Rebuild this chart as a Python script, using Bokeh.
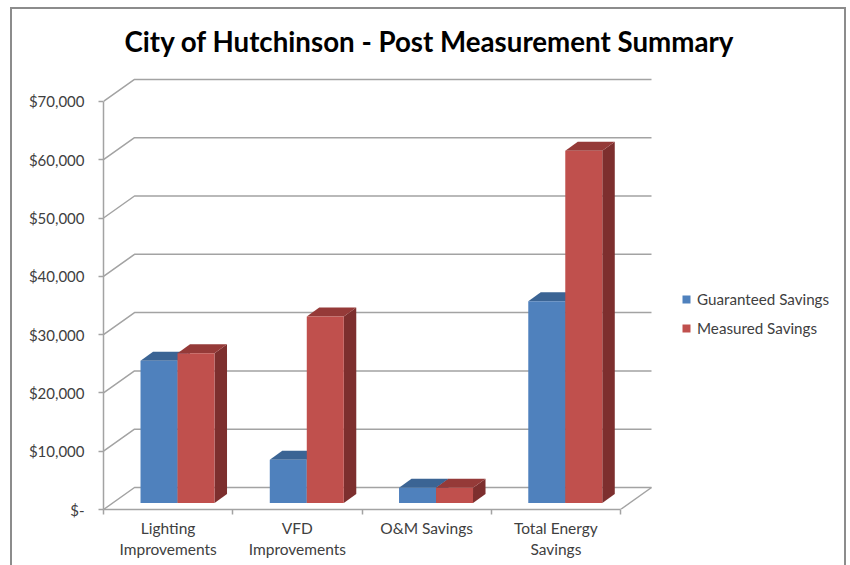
from bokeh.plotting import figure
from bokeh.models import FixedTicker, Legend, LegendItem, Title
from bokeh.embed import file_html
from bokeh.resources import INLINE

categories = ["Lighting\nImprovements", "VFD\nImprovements", "O&M Savings", "Total Energy\nSavings"]
guaranteed = [24400, 7400, 2600, 34600]
measured = [25700, 32000, 2600, 60400]
y_ticks = [0, 10000, 20000, 30000, 40000, 50000, 60000, 70000]
y_labels = ["$-", "$10,000", "$20,000", "$30,000", "$40,000", "$50,000", "$60,000", "$70,000"]
series_names = ["Guaranteed Savings", "Measured Savings"]

BLUE, BLUE_TOP, BLUE_SIDE = "#4F81BD", "#3B6494", "#2F5076"
RED, RED_TOP, RED_SIDE = "#C0504D", "#953A38", "#7D2F2E"
GRID = "#A3A3A3"
TEXT = "#404040"
FONT = "Lato"

LEFT, RIGHT, TOP, BOTTOM = 91, 0, 60, 56
FRAME_W, FRAME_H = 741, 440
PX_PER_CAT = 129.25
PX_PER_K = 5.83

xmax = FRAME_W / PX_PER_CAT
ymax = FRAME_H / PX_PER_K * 1000

# 3-D projection, in px, converted to data units
wall_dx, wall_dy = 31 / PX_PER_CAT, 22 / PX_PER_K * 1000
bar_off_x, bar_off_y = 9.4 / PX_PER_CAT, 6.5 / PX_PER_K * 1000
bar_dx, bar_dy = 12.5 / PX_PER_CAT, 9 / PX_PER_K * 1000
bar_w = 37 / PX_PER_CAT

p = figure(frame_width=FRAME_W, frame_height=FRAME_H, output_backend="svg", toolbar_location=None,
           x_range=(0, xmax), y_range=(0, ymax),
           min_border_left=LEFT, min_border_right=RIGHT, min_border_top=TOP, min_border_bottom=BOTTOM,
           outline_line_color=None, background_fill_color="white", border_fill_color="white",
           margin=(7, 0, 0, 10),
           styles={"border-left": "2px solid #8C8C8C", "border-right": "2px solid #8C8C8C",
                   "border-top": "2px solid #8C8C8C"})
p.grid.visible = False

p.title = Title(text="City of Hutchinson - Post Measurement Summary", align="left",
                vertical_align="top", offset=21, text_font=FONT, text_font_style="bold",
                text_font_size="27.7px", text_color="#000000", standoff=20)

# Walls and floor
n = len(categories)
xs, ys = [], []
for v in y_ticks:
    xs.append([0, wall_dx, n + wall_dx])
    ys.append([v, v + wall_dy, v + wall_dy])
xs.append([n, n + wall_dx])
ys.append([0, wall_dy])
p.multi_line(xs, ys, line_color=GRID, line_width=1.5)

# Bars
def bars(values, offset, front, top, side):
    centers = [i + 0.5 + bar_off_x + offset * bar_w for i in range(n)]
    left = [c - bar_w / 2 for c in centers]
    right = [c + bar_w / 2 for c in centers]
    tops = [bar_off_y + v for v in values]
    side_x = [[r, r + bar_dx, r + bar_dx, r] for r in right]
    side_y = [[bar_off_y, bar_off_y + bar_dy, t + bar_dy, t] for t in tops]
    top_x = [[l, l + bar_dx, r + bar_dx, r] for l, r in zip(left, right)]
    top_y = [[t, t + bar_dy, t + bar_dy, t] for t in tops]
    p.patches(side_x, side_y, fill_color=side, line_color=None)
    p.patches(top_x, top_y, fill_color=top, line_color=None)
    return p.vbar(x=centers, width=bar_w, bottom=bar_off_y, top=tops, fill_color=front, line_color=None)

r1 = bars(guaranteed, -0.5, BLUE, BLUE_TOP, BLUE_SIDE)
r2 = bars(measured, 0.5, RED, RED_TOP, RED_SIDE)

# Axes
ya = p.yaxis[0]
ya.ticker = FixedTicker(ticks=y_ticks)
ya.major_label_overrides = dict(zip(y_ticks, y_labels))
ya.bounds = (0, 70000)
ya.axis_line_color = GRID
ya.axis_line_width = 1.5
ya.major_tick_line_color = GRID
ya.major_tick_line_width = 1.5
ya.major_tick_in = 0
ya.major_tick_out = 5
ya.minor_tick_line_color = None
ya.major_label_standoff = 14
ya.major_label_text_font = FONT
ya.major_label_text_font_size = "15px"
ya.major_label_text_color = TEXT

xa = p.xaxis[0]
tick_pos = [i + 0.5 for i in range(n)]
xa.ticker = FixedTicker(ticks=tick_pos, minor_ticks=list(range(n + 1)))
xa.major_label_overrides = dict(zip(tick_pos, categories))
xa.bounds = (0, n)
xa.axis_line_color = GRID
xa.axis_line_width = 1.5
xa.major_tick_line_color = None
xa.minor_tick_line_color = GRID
xa.minor_tick_line_width = 1.5
xa.minor_tick_in = 0
xa.minor_tick_out = 5
xa.major_tick_out = 0
xa.major_label_standoff = 4
xa.major_label_text_font = FONT
xa.major_label_text_font_size = "15.5px"
xa.major_label_text_color = TEXT

# Legend
legend = Legend(items=[LegendItem(label=series_names[0], renderers=[r1]),
                       LegendItem(label=series_names[1], renderers=[r2])],
                location=(578, 172), orientation="vertical",
                glyph_width=10, glyph_height=10, label_standoff=6, spacing=11,
                padding=0, margin=0, background_fill_alpha=0, border_line_color=None,
                label_text_font=FONT, label_text_font_size="15.2px", label_text_color=TEXT)
p.add_layout(legend, "center")

open("out.html", "w").write(file_html(p, INLINE))
